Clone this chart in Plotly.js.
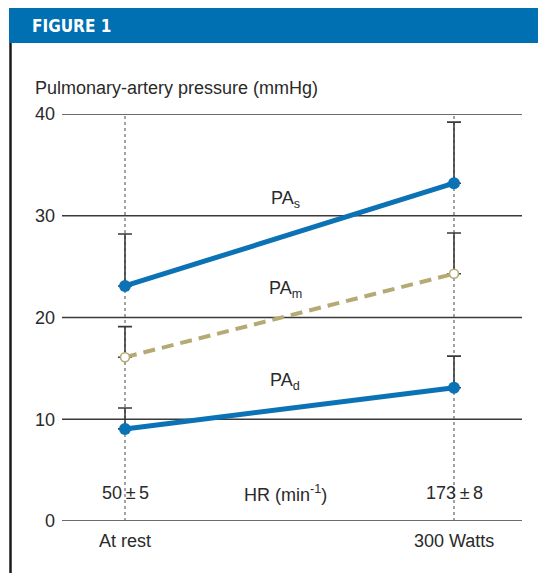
<!DOCTYPE html>
<html>
<head>
<meta charset="utf-8">
<script src="https://cdn.plot.ly/plotly-3.0.1.min.js"></script>
<style>
  html, body { margin: 0; padding: 0; background: #fff; }
  #chart { width: 538px; height: 573px; }
</style>
</head>
<body>
<div id="chart"></div>
<script>
// Conditions on the x axis (0 = at rest, 1 = 300 W exercise)
const conditions = [0, 1];
const conditionLabels = ["At rest", "300 Watts"];
const heartRates = ["50\u2009±\u20095", "173\u2009±\u20098"];

// Pulmonary-artery pressures (mmHg), means and upper SD
const paSystolic = [23.1, 33.2];
const paSystolicSD = [5.1, 6.0];
const paMean = [16.1, 24.3];
const paMeanSD = [3.0, 4.0];
const paDiastolic = [9.05, 13.1];
const paDiastolicSD = [2.05, 3.1];

const yTicks = [0, 10, 20, 30, 40];

const W = 538, H = 573;
const M = { l: 62, r: 16, t: 114, b: 52 };
const plotW = W - M.l - M.r, plotH = H - M.t - M.b;
// pixel -> paper helpers for the frame decorations
const px = x => (x - M.l) / plotW;
const py = y => (H - M.b - y) / plotH;

const BLUE = "#0b72b5";
const TAN = "#b5aa74";
const TEXT = "#2a2a2a";
const FONT = "Liberation Sans, Arial, sans-serif";

function errorBar(sd) {
  return {
    type: "data", symmetric: false, array: sd, arrayminus: [0, 0],
    color: "#3a3a3a", thickness: 1.6, width: 7
  };
}

const traces = [
  {
    x: conditions, y: paSystolic, type: "scatter", mode: "lines+markers",
    line: { color: BLUE, width: 5 },
    marker: { color: BLUE, size: 12 },
    error_y: errorBar(paSystolicSD), cliponaxis: false, hoverinfo: "skip"
  },
  {
    x: conditions, y: paMean, type: "scatter", mode: "lines+markers",
    line: { color: TAN, width: 4, dash: "12px,7px" },
    marker: { color: "#ffffff", size: 9, line: { color: TAN, width: 1.6 } },
    error_y: errorBar(paMeanSD), cliponaxis: false, hoverinfo: "skip"
  },
  {
    x: conditions, y: paDiastolic, type: "scatter", mode: "lines+markers",
    line: { color: BLUE, width: 5 },
    marker: { color: BLUE, size: 12 },
    error_y: errorBar(paDiastolicSD), cliponaxis: false, hoverinfo: "skip"
  }
];

// horizontal rules at every labelled pressure
const shapes = yTicks.map(v => ({
  type: "line", xref: "paper", yref: "y", x0: 0, x1: 1, y0: v, y1: v,
  line: { color: "#3a3a3a", width: 1.5 }, layer: "below"
}));

// dotted guides at each condition
conditions.forEach(c => shapes.push({
  type: "line", xref: "x", yref: "y", x0: c, x1: c, y0: 0, y1: 40,
  line: { color: "#666", width: 1.2, dash: "dot" }, layer: "below"
}));

// header band and left rule
shapes.push({
  type: "rect", xref: "paper", yref: "paper",
  x0: px(9), x1: px(540), y0: py(43), y1: py(8),
  fillcolor: "#0070b2", line: { width: 0 }
});
shapes.push({
  type: "line", xref: "paper", yref: "paper",
  x0: px(10.5), x1: px(10.5), y0: py(43), y1: py(575),
  line: { color: "#1a1a1a", width: 2.5 }
});

const annotations = [
  { text: "<b>FIGURE 1</b>", x: px(30), y: py(26), xanchor: "left", yanchor: "middle",
    font: { family: "DejaVu Sans Condensed, Liberation Sans Narrow, Arial Narrow, sans-serif", size: 17, color: "#ffffff" } },
  { text: "Pulmonary-artery pressure (mmHg)", x: px(33), y: py(88), xanchor: "left", yanchor: "middle",
    font: { family: FONT, size: 18, color: TEXT } },
  { text: "PA<sub>s</sub>", x: px(285), y: py(199), xanchor: "center", yanchor: "middle",
    font: { family: FONT, size: 18, color: TEXT } },
  { text: "PA<sub>m</sub>", x: px(285), y: py(289), xanchor: "center", yanchor: "middle",
    font: { family: FONT, size: 18, color: TEXT } },
  { text: "PA<sub>d</sub>", x: px(285), y: py(381), xanchor: "center", yanchor: "middle",
    font: { family: FONT, size: 18, color: TEXT } },
  { text: "HR (min<sup>-1</sup>)", x: px(285), y: py(493), xanchor: "center", yanchor: "middle",
    font: { family: FONT, size: 18, color: TEXT } }
];
conditions.forEach((c, i) => {
  annotations.push({ text: heartRates[i], x: c, xref: "x", y: py(493), yref: "paper",
    xanchor: "center", yanchor: "middle", font: { family: FONT, size: 18, color: TEXT } });
  annotations.push({ text: conditionLabels[i], x: c, xref: "x", y: py(541), yref: "paper",
    xanchor: "center", yanchor: "middle", font: { family: FONT, size: 18, color: TEXT } });
});
annotations.forEach(a => {
  a.showarrow = false;
  if (!a.xref) a.xref = "paper";
  if (!a.yref) a.yref = "paper";
});

// x range chosen so the two conditions sit at their column positions
const xSpan = plotW / 329;
const x0 = -63 / 329;

const layout = {
  width: W, height: H,
  margin: M,
  paper_bgcolor: "#ffffff", plot_bgcolor: "#ffffff",
  showlegend: false,
  font: { family: FONT, size: 18, color: TEXT },
  xaxis: {
    range: [x0, x0 + xSpan], showgrid: false, zeroline: false,
    showticklabels: false, ticks: "", showline: false, fixedrange: true
  },
  yaxis: {
    range: [0, 40], tickvals: yTicks, ticktext: yTicks.map(String),
    showgrid: false, zeroline: false,
    showline: false, ticks: "", ticklabelstandoff: 6,
    tickfont: { family: FONT, size: 18, color: TEXT }, fixedrange: true
  },
  shapes: shapes,
  annotations: annotations
};

Plotly.newPlot("chart", traces, layout, { displayModeBar: false, staticPlot: true });
</script>
</body>
</html>
